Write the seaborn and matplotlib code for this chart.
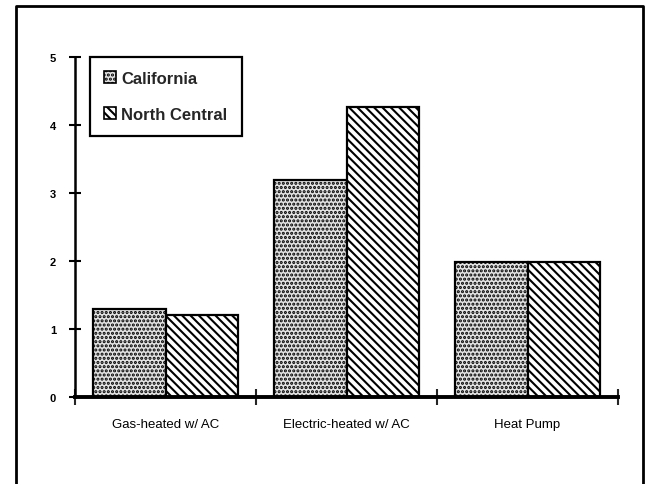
import pandas as pd
import seaborn as sns
import matplotlib.pyplot as plt
import matplotlib.patches as mpatches
from matplotlib.lines import Line2D

# Data
categories = ["Gas-heated w/ AC", "Electric-heated w/ AC", "Heat Pump"]
regions = ["California", "North Central"]
california = [1.29, 3.19, 1.98]
north_central = [1.21, 4.26, 1.98]
y_ticks = [0, 1, 2, 3, 4, 5]

sns.set_theme(style="white")
plt.rcParams['font.family'] = ['Liberation Sans', 'DejaVu Sans']
plt.rcParams['hatch.linewidth'] = 1.5

df = pd.DataFrame({
    "category": categories * 2,
    "region": [regions[0]] * 3 + [regions[1]] * 3,
    "value": california + north_central,
})

fig = plt.figure(figsize=(6.51, 4.85), dpi=100)
ax = fig.add_axes([75 / 651, 1 - 398 / 485, (618 - 75) / 651, (398 - 58) / 485])

sns.barplot(data=df, x="category", y="value", hue="region", order=categories,
            hue_order=regions, palette=["#e2e2e2", "white"], saturation=1,
            edgecolor="black", linewidth=1.6, width=0.8, ax=ax)

# Patterns: stipple for California, diagonal stripes for North Central
fills = [("#e2e2e2", "...."), ("white", "\\\\\\\\")]
for cont, (fc, hatch) in zip(ax.containers, fills):
    for bar in cont:
        bar.set_facecolor(fc)
        bar.set_hatch(hatch)
        bar.set_edgecolor("black")

ax.set_xlim(-0.5, 2.5)
ax.set_ylim(0, 5)
ax.set_yticks(y_ticks)
ax.set_yticklabels([str(t) for t in y_ticks], fontsize=8, fontweight="bold")
ax.set_xticks(range(len(categories)))
ax.set_xticklabels(categories, fontsize=9.5,
                   family=['Liberation Sans Narrow', 'Liberation Sans'])
ax.set_xticks([-0.5, 0.5, 1.5, 2.5], minor=True)
ax.tick_params(axis="x", which="major", length=0, pad=15, colors="black")
ax.tick_params(axis="x", which="minor", direction="inout", length=12, width=1.5,
               bottom=True)
ax.tick_params(axis="y", direction="inout", length=9, width=1.5, left=True,
               pad=9, colors="black")
ax.set_xlabel("")
ax.set_ylabel("")

for side in ["top", "right"]:
    ax.spines[side].set_visible(False)
ax.spines["left"].set_linewidth(1.8)
ax.spines["bottom"].set_linewidth(2.8)
ax.spines["left"].set_color("black")
ax.spines["bottom"].set_color("black")

# Legend with framed box
if ax.get_legend() is not None:
    ax.get_legend().remove()
handles = [mpatches.Patch(facecolor=fc, hatch=h, edgecolor="black", linewidth=1.2)
           for fc, h in fills]
leg = ax.legend(handles, regions, loc="upper left", bbox_to_anchor=(0.027, 1.0),
                borderaxespad=0, fancybox=False, frameon=True, framealpha=1,
                edgecolor="black", handlelength=0.75, handleheight=0.75,
                handletextpad=0.3, labelspacing=1.25, borderpad=0.85,
                prop={"size": 12, "weight": "bold"})
leg.get_frame().set_linewidth(1.6)

# Outer frame of the scanned page (bottom edge is cut off)
x0, x1, ytop = 16 / 651, 643 / 651, 1 - 7 / 485
fig.add_artist(Line2D([x0, x0, x1, x1], [0, ytop, ytop, 0],
                      transform=fig.transFigure, color="black", lw=2))

fig.savefig("out.png", dpi=100, facecolor="white")
